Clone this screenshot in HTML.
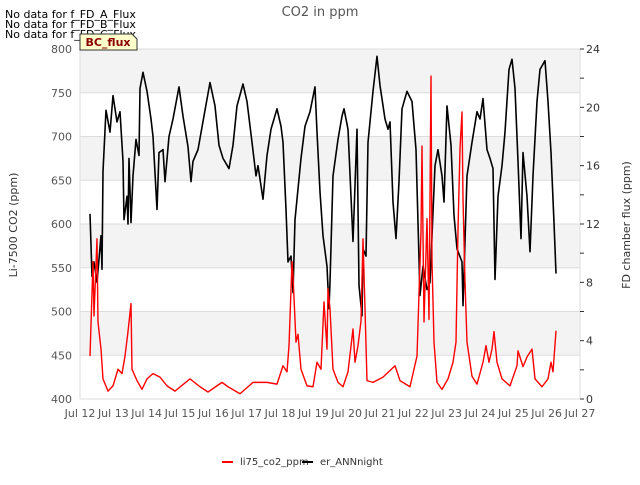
<!DOCTYPE html>
<html><head><meta charset="utf-8"><style>
body{margin:0;background:#fff;font-family:"Liberation Sans","DejaVu Sans",sans-serif;}
svg text{font-family:"DejaVu Sans","Liberation Sans",sans-serif;}
</style></head><body>
<svg id="chart" width="640" height="480" xmlns="http://www.w3.org/2000/svg">
<g id="bg"></g>
<text x="320" y="16" text-anchor="middle" font-size="13" fill="#555">CO2 in ppm</text>
<text x="5" y="18" font-size="11" fill="#000">No data for f_FD_A_Flux</text>
<text x="5" y="28" font-size="11" fill="#000">No data for f_FD_B_Flux</text>
<text x="5" y="38" font-size="11" fill="#000">No data for f_FD_C_Flux</text>
<g>
<path d="M80,34 H132 L137,39 V50 H80 Z" fill="#ffffcc" stroke="#333" stroke-width="1"/>
<text x="108" y="46" text-anchor="middle" font-size="11" font-weight="bold" fill="#8b0000">BC_flux</text>
</g>
<text transform="translate(17,225) rotate(-90)" text-anchor="middle" font-size="11" fill="#333">Li-7500 CO2 (ppm)</text>
<text transform="translate(630,225) rotate(-90)" text-anchor="middle" font-size="11" fill="#333">FD chamber flux (ppm)</text>
<g id="axes"></g>
<g id="series"></g>
<g>
<line x1="222" y1="462" x2="233" y2="462" stroke="#f00" stroke-width="2"/>
<text x="240" y="465" font-size="10" fill="#333">li75_co2_ppm</text>
<line x1="302" y1="462" x2="313" y2="462" stroke="#000" stroke-width="2"/>
<text x="320" y="465" font-size="10" fill="#333">er_ANNnight</text>
</g>
</svg>
<script>
const xTickLabels=["Jul 12","Jul 13","Jul 14","Jul 15","Jul 16","Jul 17","Jul 18","Jul 19","Jul 20","Jul 21","Jul 22","Jul 23","Jul 24","Jul 25","Jul 26","Jul 27"];
const leftTicks=[400,450,500,550,600,650,700,750,800];
const rightTicks=[0,4,8,12,16,20,24];
const redDays=[0.30,0.39,0.42,0.51,0.54,0.63,0.69,0.84,0.99,1.14,1.26,1.35,1.44,1.53,1.56,1.71,1.86,2.01,2.19,2.40,2.61,2.85,3.30,3.60,3.84,4.26,4.44,4.80,5.19,5.61,5.91,6.09,6.21,6.27,6.36,6.39,6.48,6.54,6.63,6.81,6.99,7.11,7.23,7.32,7.41,7.44,7.50,7.59,7.74,7.89,8.04,8.19,8.25,8.34,8.43,8.49,8.55,8.61,8.79,9.09,9.45,9.60,9.90,10.11,10.23,10.26,10.32,10.41,10.47,10.53,10.56,10.62,10.71,10.86,11.04,11.19,11.28,11.34,11.40,11.46,11.49,11.55,11.61,11.76,11.91,12.09,12.18,12.27,12.36,12.42,12.51,12.66,12.90,13.11,13.14,13.29,13.41,13.56,13.65,13.86,14.04,14.13,14.19,14.28];
const redValues=[449,557,495,583,488,457,423,409,415,434,429,449,477,509,434,421,411,423,429,425,415,409,423,414,408,419,414,406,419,419,417,438,431,461,557,541,465,474,434,415,414,442,434,511,457,526,503,434,419,414,431,480,442,461,489,583,503,421,419,425,438,421,414,449,591,689,488,606,491,769,557,465,419,411,423,442,465,594,686,728,629,534,465,426,417,442,461,442,457,477,442,423,415,438,455,437,448,457,423,414,423,442,431,478];
const blackDays=[0.30,0.36,0.42,0.51,0.63,0.66,0.69,0.78,0.90,0.99,1.11,1.20,1.29,1.32,1.41,1.44,1.47,1.53,1.59,1.68,1.77,1.80,1.89,2.01,2.13,2.19,2.31,2.37,2.49,2.55,2.67,2.79,2.97,3.09,3.24,3.33,3.39,3.54,3.75,3.90,4.05,4.17,4.29,4.47,4.59,4.71,4.89,5.01,5.16,5.28,5.34,5.49,5.61,5.73,5.91,6.03,6.09,6.18,6.24,6.33,6.39,6.45,6.57,6.63,6.75,6.90,7.05,7.11,7.20,7.29,7.41,7.47,7.50,7.59,7.74,7.86,7.92,8.04,8.19,8.31,8.37,8.46,8.49,8.58,8.64,8.79,8.91,9.00,9.15,9.24,9.30,9.39,9.48,9.57,9.66,9.81,9.96,10.08,10.14,10.20,10.29,10.41,10.50,10.65,10.74,10.86,10.92,11.01,11.13,11.22,11.31,11.46,11.49,11.61,11.76,11.91,12.00,12.09,12.21,12.30,12.39,12.45,12.54,12.66,12.75,12.87,12.96,13.05,13.14,13.23,13.29,13.41,13.50,13.59,13.71,13.80,13.95,14.04,14.13,14.22,14.28];
const blackValues=[12.7,8.4,9.4,8.0,11.2,8.9,15.6,19.8,18.3,20.8,19.0,19.7,16.3,12.3,13.9,12.0,16.5,12.1,15.3,17.8,16.7,21.3,22.4,21.1,19.2,18.0,13.0,16.9,17.1,14.9,18.0,19.2,21.4,19.4,17.3,14.9,16.3,17.1,19.8,21.7,20.1,17.4,16.5,15.8,17.4,20.1,21.6,20.4,17.6,15.3,16.0,13.7,16.7,18.5,19.9,18.7,17.6,13.0,9.4,9.8,7.3,12.3,15.1,16.5,18.7,19.7,21.4,18.3,14.2,11.2,9.1,6.2,8.0,15.3,17.8,19.4,19.9,18.5,10.8,18.5,7.8,5.7,10.3,9.8,17.6,21.1,23.5,21.5,19.2,18.5,19.0,13.5,11.0,14.9,19.9,21.1,20.4,17.1,12.1,7.1,9.1,7.5,8.0,16.0,17.1,15.3,13.5,20.1,17.4,12.6,10.3,9.4,6.4,15.3,17.6,19.7,19.2,20.6,17.1,16.5,15.8,8.2,13.9,16.0,18.3,22.6,23.3,21.3,16.3,11.0,16.9,13.9,10.1,15.3,20.4,22.6,23.2,20.4,16.9,12.1,8.6];

const NS="http://www.w3.org/2000/svg";
const X0=80,X1=580,Y0=49,Y1=399;
const xS=d=>X0+d*(X1-X0)/15;
const yL=v=>Y1-(v-400)*(Y1-Y0)/400;
const yR=v=>Y1-v*(Y1-Y0)/24;
function mk(tag,attrs,parent){const e=document.createElementNS(NS,tag);for(const k in attrs)e.setAttribute(k,attrs[k]);parent.appendChild(e);return e;}
const bg=document.getElementById('bg'),axes=document.getElementById('axes'),series=document.getElementById('series');
for(let i=0;i<leftTicks.length-1;i++){
  const top=yL(leftTicks[i+1]),bot=yL(leftTicks[i]);
  const r=mk('rect',{x:X0,y:top,width:X1-X0,height:bot-top,fill:(i%2===1)?'#f3f3f3':'#fff'},bg);
  
  
}
leftTicks.forEach(v=>{
  const l=mk('line',{x1:X0,x2:X1,y1:yL(v),y2:yL(v),stroke:'#ddd','stroke-width':1},bg);
  
  
  const t=mk('text',{x:72,y:yL(v)+4,'text-anchor':'end','font-size':11,fill:'#555'},axes);
  t.textContent=v;
  
  
});
mk('line',{x1:X0,x2:X0,y1:Y0,y2:Y1,stroke:'#ddd'},bg);
mk('line',{x1:X1,x2:X1,y1:Y0,y2:Y1,stroke:'#ddd'},bg);
for(let v=0;v<=24;v+=2){
  const tk=mk('line',{x1:X1,x2:X1+4,y1:yR(v),y2:yR(v),stroke:'#333'},axes);
  
  
}
rightTicks.forEach(v=>{
  const t=mk('text',{x:586,y:yR(v)+4,'font-size':11,fill:'#333'},axes);
  t.textContent=v;
  
  
});
xTickLabels.forEach((s,i)=>{
  const t=mk('text',{x:xS(i),y:417,'text-anchor':'middle','font-size':11,fill:'#555'},axes);
  t.textContent=s;
  
  
});
const pb=mk('polyline',{points:blackDays.map((d,i)=>xS(d)+','+yR(blackValues[i])).join(' '),fill:'none',stroke:'#000','stroke-width':1.6,'stroke-linejoin':'round'},series);


const pr=mk('polyline',{points:redDays.map((d,i)=>xS(d)+','+yL(redValues[i])).join(' '),fill:'none',stroke:'#f00','stroke-width':1.4,'stroke-linejoin':'round'},series);


</script>
</body></html>
